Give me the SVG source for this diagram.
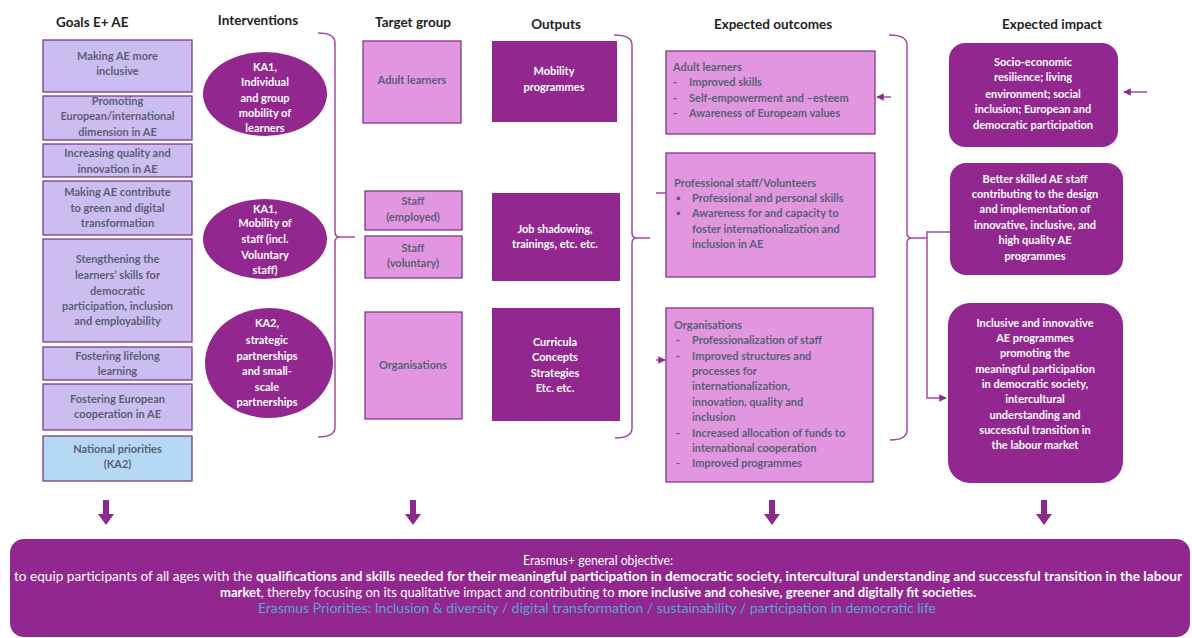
<svg xmlns="http://www.w3.org/2000/svg" width="1192" height="638" viewBox="0 0 1192 638">
<defs>
<marker id="ah" viewBox="0 0 10 10" refX="9" refY="5" markerWidth="5" markerHeight="5" orient="auto-start-reverse">
<path d="M0,0 L10,5 L0,10 z" fill="#8b2a8c"/>
</marker>
<style>
text{font-family:Lato,"Liberation Sans",Arial,sans-serif;}
.h{font-size:13.5px;font-weight:bold;fill:#222;}
.goal{fill:#cbbdef;stroke:#7d3b8a;stroke-width:1.3;}
.nat{fill:#b5d8f4;stroke:#7d3b8a;stroke-width:1.3;}
.pink{fill:#e196df;stroke:#7d3b8a;stroke-width:1.3;}
.dark{fill:#92278f;}
.gt{font-size:11px;font-weight:bold;fill:#5a5f78;text-anchor:middle;}
.ot{font-size:11px;font-weight:bold;fill:#5a5f78;}
.wt{font-size:11px;font-weight:bold;fill:#fff;text-anchor:middle;}
.br{fill:none;stroke:#a24aa3;stroke-width:1.5;}
.cn{fill:none;stroke:#a24aa3;stroke-width:1.5;}
.bt{font-size:12.5px;fill:#fff;text-anchor:middle;}
</style>
</defs>

<g id="headers">
<text class="h" x="56" y="27">Goals E+ AE</text>
<text class="h" x="258" y="25" text-anchor="middle">Interventions</text>
<text class="h" x="413" y="27" text-anchor="middle">Target group</text>
<text class="h" x="556" y="29" text-anchor="middle">Outputs</text>
<text class="h" x="773" y="29" text-anchor="middle">Expected outcomes</text>
<text class="h" x="1052" y="29" text-anchor="middle">Expected impact</text>
</g>

<g id="goal1"><rect class="goal" x="43" y="40" width="149" height="52"/>
<text class="gt" x="117.5"><tspan x="117.5" y="60">Making AE more</tspan><tspan x="117.5" y="75">inclusive</tspan></text></g>
<g id="goal2"><rect class="goal" x="43" y="96" width="149" height="44"/>
<text class="gt"><tspan x="117.5" y="105">Promoting</tspan><tspan x="117.5" y="120">European/international</tspan><tspan x="117.5" y="136">dimension in AE</tspan></text></g>
<g id="goal3"><rect class="goal" x="43" y="144" width="149" height="33"/>
<text class="gt"><tspan x="117.5" y="157">Increasing quality and</tspan><tspan x="117.5" y="173">innovation in AE</tspan></text></g>
<g id="goal4"><rect class="goal" x="43" y="181" width="149" height="54"/>
<text class="gt"><tspan x="117.5" y="196">Making AE contribute</tspan><tspan x="117.5" y="212">to green and digital</tspan><tspan x="117.5" y="227">transformation</tspan></text></g>
<g id="goal5"><rect class="goal" x="43" y="239" width="149" height="103"/>
<text class="gt"><tspan x="117.5" y="263">Stengthening the</tspan><tspan x="117.5" y="279">learners’ skills for</tspan><tspan x="117.5" y="295">democratic</tspan><tspan x="117.5" y="310">participation, inclusion</tspan><tspan x="117.5" y="325">and employability</tspan></text></g>
<g id="goal6"><rect class="goal" x="43" y="347" width="149" height="33"/>
<text class="gt"><tspan x="117.5" y="360">Fostering lifelong</tspan><tspan x="117.5" y="375">learning</tspan></text></g>
<g id="goal7"><rect class="goal" x="43" y="384" width="149" height="46"/>
<text class="gt"><tspan x="117.5" y="403">Fostering European</tspan><tspan x="117.5" y="418">cooperation in AE</tspan></text></g>
<g id="goal8"><rect class="nat" x="43" y="436" width="149" height="45"/>
<text class="gt"><tspan x="117.5" y="453">National priorities</tspan><tspan x="117.5" y="468">(KA2)</tspan></text></g>

<g id="int1"><ellipse class="dark" cx="265" cy="94" rx="62" ry="42"/>
<text class="wt"><tspan x="265" y="71">KA1,</tspan><tspan x="265" y="86">Individual</tspan><tspan x="265" y="102">and group</tspan><tspan x="265" y="117">mobility of</tspan><tspan x="265" y="132">learners</tspan></text></g>
<g id="int2"><ellipse class="dark" cx="265" cy="239" rx="62" ry="40"/>
<text class="wt"><tspan x="265" y="213">KA1,</tspan><tspan x="265" y="227">Mobility of</tspan><tspan x="265" y="243">staff (incl.</tspan><tspan x="265" y="259">Voluntary</tspan><tspan x="265" y="274">staff)</tspan></text></g>
<g id="int3"><ellipse class="dark" cx="269" cy="363" rx="64" ry="55"/>
<text class="wt"><tspan x="267" y="327">KA2,</tspan><tspan x="267" y="344">strategic</tspan><tspan x="267" y="360">partnerships</tspan><tspan x="267" y="375">and small-</tspan><tspan x="267" y="391">scale</tspan><tspan x="267" y="406">partnerships</tspan></text></g>

<g id="tg1"><rect class="pink" x="363" y="41" width="98" height="82"/>
<text class="gt" x="412" y="84">Adult learners</text></g>
<g id="tg2"><rect class="pink" x="365" y="191" width="97" height="39"/>
<text class="gt"><tspan x="413" y="205">Staff</tspan><tspan x="413" y="221">(employed)</tspan></text></g>
<g id="tg3"><rect class="pink" x="365" y="236" width="97" height="42"/>
<text class="gt"><tspan x="413" y="252">Staff</tspan><tspan x="413" y="267">(voluntary)</tspan></text></g>
<g id="tg4"><rect class="pink" x="365" y="312" width="97" height="107"/>
<text class="gt" x="413" y="369">Organisations</text></g>

<g id="out1"><rect class="dark" x="492" y="41" width="125" height="81"/>
<text class="wt"><tspan x="554" y="75">Mobility</tspan><tspan x="554" y="91">programmes</tspan></text></g>
<g id="out2"><rect class="dark" x="492" y="193" width="128" height="88"/>
<text class="wt"><tspan x="555" y="233">Job shadowing,</tspan><tspan x="555" y="248">trainings, etc. etc.</tspan></text></g>
<g id="out3"><rect class="dark" x="492" y="308" width="128" height="113"/>
<text class="wt"><tspan x="555" y="346">Curricula</tspan><tspan x="555" y="361">Concepts</tspan><tspan x="555" y="377">Strategies</tspan><tspan x="555" y="392">Etc. etc.</tspan></text></g>

<g id="oc1"><rect class="pink" x="666" y="51" width="209" height="83"/>
<text class="ot"><tspan x="673" y="71">Adult learners</tspan><tspan x="673" y="86">-</tspan><tspan x="689" y="86">Improved skills</tspan><tspan x="673" y="102">-</tspan><tspan x="689" y="102">Self-empowerment and –esteem</tspan><tspan x="673" y="117">-</tspan><tspan x="689" y="117">Awareness of Europeam values</tspan></text></g>
<g id="oc2"><rect class="pink" x="666" y="153" width="209" height="124"/>
<text class="ot"><tspan x="674" y="187">Professional staff/Volunteers</tspan><tspan x="676" y="202">▪</tspan><tspan x="692" y="202">Professional and personal skills</tspan><tspan x="676" y="217">▪</tspan><tspan x="692" y="217">Awareness for and capacity to</tspan><tspan x="692" y="233">foster internationalization and</tspan><tspan x="692" y="248">inclusion in AE</tspan></text></g>
<g id="oc3"><rect class="pink" x="666" y="308" width="207" height="174"/>
<text class="ot"><tspan x="674" y="329">Organisations</tspan><tspan x="676" y="344">-</tspan><tspan x="692" y="344">Professionalization of staff</tspan><tspan x="676" y="360">-</tspan><tspan x="692" y="360">Improved structures and</tspan><tspan x="692" y="375">processes for</tspan><tspan x="692" y="390">internationalization,</tspan><tspan x="692" y="406">innovation, quality and</tspan><tspan x="692" y="421">inclusion</tspan><tspan x="676" y="437">-</tspan><tspan x="692" y="437">Increased allocation of funds to</tspan><tspan x="692" y="452">international cooperation</tspan><tspan x="676" y="467">-</tspan><tspan x="692" y="467">Improved programmes</tspan></text></g>

<g id="imp1"><rect class="dark" x="949" y="43" width="169" height="104" rx="16"/>
<text class="wt"><tspan x="1033" y="66">Socio-economic</tspan><tspan x="1033" y="81">resilience; living</tspan><tspan x="1033" y="98">environment; social</tspan><tspan x="1033" y="113">inclusion; European and</tspan><tspan x="1033" y="129">democratic participation</tspan></text></g>
<g id="imp2"><rect class="dark" x="950" y="163" width="173" height="112" rx="16"/>
<text class="wt"><tspan x="1035" y="183">Better skilled AE staff</tspan><tspan x="1035" y="198">contributing  to the design</tspan><tspan x="1035" y="213">and implementation of</tspan><tspan x="1035" y="229">innovative, inclusive, and</tspan><tspan x="1035" y="244">high quality AE</tspan><tspan x="1035" y="260">programmes</tspan></text></g>
<g id="imp3"><rect class="dark" x="948" y="303" width="175" height="180" rx="22"/>
<text class="wt"><tspan x="1035" y="327">Inclusive and innovative</tspan><tspan x="1035" y="342">AE programmes</tspan><tspan x="1035" y="357">promoting the</tspan><tspan x="1035" y="373">meaningful participation</tspan><tspan x="1035" y="388">in democratic society,</tspan><tspan x="1035" y="403">intercultural</tspan><tspan x="1035" y="419">understanding and</tspan><tspan x="1035" y="434">successful transition in</tspan><tspan x="1035" y="449">the labour market</tspan></text></g>

<g id="objective"><rect class="dark" x="10" y="539" width="1180" height="98" rx="14"/>
<text class="bt" x="598" y="565" textLength="150" lengthAdjust="spacingAndGlyphs">Erasmus+ general objective:</text>
<text class="bt" x="598" y="581" textLength="1168" lengthAdjust="spacingAndGlyphs">to equip participants of all ages with the <tspan font-weight="bold">qualifications and skills needed for their meaningful participation in democratic society, intercultural understanding and successful transition in the labour</tspan></text>
<text class="bt" x="598" y="597" textLength="756" lengthAdjust="spacingAndGlyphs"><tspan font-weight="bold">market</tspan>, thereby focusing on its qualitative impact and contributing to <tspan font-weight="bold">more inclusive and cohesive, greener and digitally fit societies.</tspan></text>
<text class="bt" x="597" y="613" style="fill:#5ba2d8" textLength="678" lengthAdjust="spacingAndGlyphs">Erasmus Priorities: Inclusion &amp; diversity / digital transformation /  sustainability / participation in democratic life</text>
</g>

<g id="connectors">
<path class="br" d="M318,33 Q335,33 335,43 L335,232 Q335,237 340,237 Q335,237 335,242 L335,427 Q335,437 318,437"/>
<line class="cn" x1="340" y1="237" x2="355" y2="237"/>
<path class="br" d="M614,35 Q632,35 632,45 L632,233 Q632,238 637,238 Q632,238 632,243 L632,428 Q632,438 615,438"/>
<line class="cn" x1="637" y1="238" x2="650" y2="238"/>
<path class="br" d="M889,35 Q907,35 907,45 L907,233 Q907,238 912,238 Q907,238 907,243 L907,430 Q907,440 890,440"/>
<line class="cn" x1="912" y1="238" x2="927" y2="238"/>
<polyline class="cn" points="950,232 927,232 927,398 946,398" marker-end="url(#ah)"/>
<line class="cn" x1="656" y1="193" x2="666" y2="193"/>
<line class="cn" x1="656" y1="360" x2="665" y2="360" marker-end="url(#ah)"/>
<line class="cn" x1="891" y1="97" x2="877" y2="97" marker-end="url(#ah)"/>
<line class="cn" x1="1147" y1="92" x2="1124" y2="92" marker-end="url(#ah)"/>
<g fill="#8b2a8c">
<path d="M103,500 h6 v14 h5 l-8,11 l-8,-11 h5 z"/>
<path d="M410,500 h6 v14 h5 l-8,11 l-8,-11 h5 z"/>
<path d="M769,500 h6 v14 h5 l-8,11 l-8,-11 h5 z"/>
<path d="M1041,500 h6 v14 h5 l-8,11 l-8,-11 h5 z"/>
</g>
</g>
</svg>
